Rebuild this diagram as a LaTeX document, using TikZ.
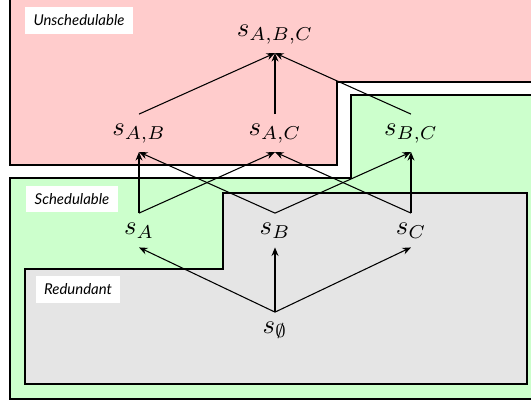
\documentclass[tikz,border=0pt]{standalone}
\usepackage{fontspec}
\newfontfamily\labelfont{Lato}
\usetikzlibrary{arrows.meta}
\begin{document}
\begin{tikzpicture}[x=0.375pt,y=-0.375pt,
  region/.style={draw=black,line width=0.4pt},
  tag/.style={fill=white,inner xsep=3.2pt,inner ysep=0pt,minimum height=10pt,
    font=\labelfont\itshape\fontsize{5.6}{6}\selectfont},
  state/.style={anchor=base,inner sep=3.33pt},
  edge/.style={-{Stealth[length=3.2pt,width=2.6pt]},line width=0.4pt}]
\useasboundingbox (0,0) rectangle (531,405);
\clip (0,0) rectangle (531,405);

% regions of the state lattice
\filldraw[region,fill=red!20] (10,-20) -- (10,165) -- (337,165) -- (337,82)
  -- (560,82) -- (560,-20) -- cycle;
\filldraw[region,fill=green!20] (10,178) -- (10,399) -- (560,399) -- (560,95)
  -- (351,95) -- (351,178) -- cycle;
\filldraw[region,fill=gray!20] (25,269) -- (25,384) -- (527,384) -- (527,193)
  -- (223,193) -- (223,269) -- cycle;

% region labels
\node[tag] (lunsched) at (79,20.5) {Unschedulable};
\node[tag] (lsched) at (72,199) {Schedulable};
\node[tag] (lredund) at (78,289.5) {Redundant};

% states
\node[state] (sABC) at (275,36) {$s_{A,B,C}$};
\node[state] (sAB) at (139,135) {$s_{A,B}$};
\node[state] (sAC) at (275,135) {$s_{A,C}$};
\node[state] (sBC) at (411,135) {$s_{B,C}$};
\node[state] (sA) at (139,234) {$s_A$};
\node[state] (sB) at (275,234) {$s_B$};
\node[state] (sC) at (411,234) {$s_C$};
\node[state] (s0) at (275,333) {$s_\emptyset$};

% transitions
\draw[edge] (s0.north) -- (sA.south);
\draw[edge] (s0.north) -- (sB.south);
\draw[edge] (s0.north) -- (sC.south);
\draw[edge] (sA.north) -- (sAB.south);
\draw[edge] (sA.north) -- (sAC.south);
\draw[edge] (sB.north) -- (sAB.south);
\draw[edge] (sB.north) -- (sBC.south);
\draw[edge] (sC.north) -- (sAC.south);
\draw[edge] (sC.north) -- (sBC.south);
\draw[edge] (sAB.north) -- (sABC.south);
\draw[edge] (sAC.north) -- (sABC.south);
\draw[edge] (sBC.north) -- (sABC.south);
\end{tikzpicture}
\end{document}
